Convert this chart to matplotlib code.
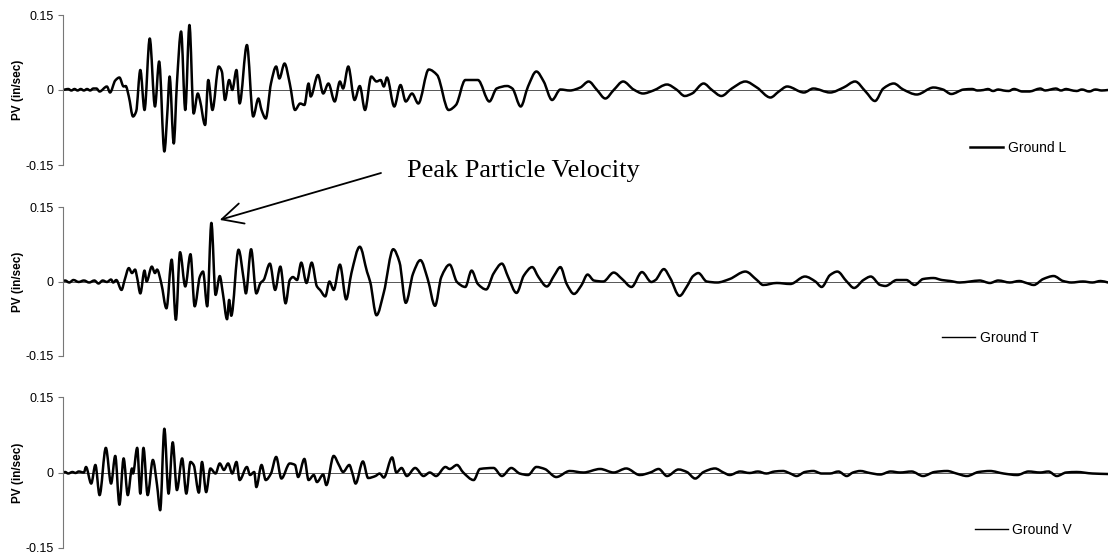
import matplotlib
matplotlib.use("Agg")
import matplotlib.pyplot as plt
import numpy as np
from matplotlib.path import Path
from matplotlib.patches import PathPatch
from matplotlib.lines import Line2D

# Ground vibration records: time (s) and particle velocity (in/sec)
t_long = [0.00, 0.02, 0.05, 0.08, 0.11, 0.14, 0.17, 0.20, 0.23, 0.26,
          0.29, 0.32, 0.35, 0.42, 0.45, 0.50, 0.54, 0.58, 0.60, 0.63,
          0.67, 0.70, 0.74, 0.78, 0.83, 0.88, 0.92, 0.97, 1.00, 1.02,
          1.06, 1.09, 1.13, 1.17, 1.21, 1.25, 1.29, 1.31, 1.36, 1.39,
          1.43, 1.49, 1.52, 1.55, 1.59, 1.62, 1.66, 1.69, 1.76, 1.82,
          1.87, 1.90, 1.94, 1.99, 2.04, 2.07, 2.12, 2.17, 2.22, 2.27,
          2.31, 2.35, 2.37, 2.44, 2.49, 2.54, 2.60, 2.65, 2.68, 2.73,
          2.79, 2.84, 2.89, 2.95, 3.00, 3.04, 3.07, 3.10, 3.17, 3.23,
          3.28, 3.34, 3.40, 3.50, 3.58, 3.69, 3.76, 3.85, 3.97, 4.08,
          4.15, 4.25, 4.30, 4.38, 4.45, 4.53, 4.60, 4.68, 4.76, 4.85,
          4.95, 5.03, 5.11, 5.19, 5.27, 5.36, 5.46, 5.55, 5.65, 5.78,
          5.87, 5.95, 6.02, 6.13, 6.21, 6.30, 6.40, 6.53, 6.64, 6.77,
          6.85, 6.93, 7.09, 7.18, 7.34, 7.47, 7.58, 7.68, 7.77, 7.85,
          7.95, 8.04, 8.17, 8.33, 8.42, 8.50, 8.62, 8.70, 8.75, 8.81,
          8.85, 8.90, 8.95, 9.00, 9.05, 9.10, 9.18, 9.25, 9.30, 9.35,
          9.40, 9.45, 9.50, 9.55, 9.60, 9.64, 9.70, 9.75, 9.82, 9.88,
          9.94, 10.00]
v_long = [0.000, 0.001, 0.002, -0.001, 0.002, -0.001, 0.002, -0.001, 0.002, -0.001,
          0.003, 0.003, -0.003, 0.007, -0.005, 0.019, 0.025, 0.007, 0.008, -0.013,
          -0.053, -0.043, 0.040, -0.040, 0.103, -0.033, 0.057, -0.123, -0.040, 0.027,
          -0.107, 0.013, 0.117, -0.040, 0.130, -0.047, -0.007, -0.020, -0.070, 0.020,
          -0.040, 0.047, 0.037, -0.020, 0.020, 0.000, 0.040, -0.027, 0.090, -0.053,
          -0.017, -0.040, -0.057, 0.013, 0.047, 0.023, 0.053, 0.013, -0.040, -0.027,
          -0.030, 0.013, -0.013, 0.030, -0.007, 0.013, -0.023, 0.017, 0.003, 0.047,
          -0.020, 0.008, -0.040, 0.027, 0.017, 0.020, 0.007, 0.025, -0.033, 0.010,
          -0.023, -0.007, -0.027, 0.041, 0.030, -0.040, -0.030, 0.020, 0.020, -0.023,
          0.003, 0.008, 0.003, -0.033, 0.007, 0.037, 0.017, -0.020, 0.001, -0.001,
          0.005, 0.017, 0.000, -0.017, 0.000, 0.017, 0.001, -0.007, -0.001, 0.011,
          0.001, -0.012, -0.007, 0.013, 0.000, -0.012, 0.003, 0.017, 0.005, -0.015,
          -0.003, 0.007, -0.005, 0.003, -0.005, 0.005, 0.017, -0.003, -0.022, 0.003,
          0.013, 0.001, -0.009, 0.005, 0.001, -0.008, 0.001, 0.002, -0.001, 0.000,
          0.002, -0.002, 0.001, -0.001, -0.002, 0.002, -0.003, -0.003, 0.000, 0.003,
          -0.001, 0.001, 0.003, -0.001, 0.002, 0.000, -0.002, 0.001, -0.003, 0.001,
          -0.001, 0.000]

t_trans = [0.00, 0.02, 0.06, 0.10, 0.15, 0.20, 0.25, 0.30, 0.34, 0.38,
           0.42, 0.46, 0.48, 0.51, 0.56, 0.59, 0.63, 0.66, 0.69, 0.71,
           0.74, 0.78, 0.80, 0.85, 0.88, 0.90, 0.94, 0.99, 1.04, 1.08,
           1.12, 1.17, 1.22, 1.26, 1.31, 1.34, 1.38, 1.42, 1.46, 1.50,
           1.53, 1.57, 1.59, 1.61, 1.68, 1.73, 1.75, 1.80, 1.85, 1.89,
           1.92, 1.98, 2.03, 2.08, 2.13, 2.17, 2.20, 2.24, 2.28, 2.33,
           2.38, 2.43, 2.46, 2.51, 2.55, 2.59, 2.65, 2.71, 2.76, 2.84,
           2.91, 2.94, 3.00, 3.07, 3.16, 3.22, 3.28, 3.35, 3.42, 3.49,
           3.56, 3.62, 3.70, 3.77, 3.85, 3.91, 3.97, 4.05, 4.12, 4.20,
           4.26, 4.34, 4.41, 4.49, 4.55, 4.63, 4.70, 4.76, 4.82, 4.89,
           4.96, 5.02, 5.08, 5.17, 5.27, 5.35, 5.44, 5.54, 5.63, 5.67,
           5.75, 5.81, 5.90, 5.97, 6.03, 6.08, 6.16, 6.26, 6.38, 6.53,
           6.64, 6.70, 6.83, 6.96, 7.10, 7.20, 7.26, 7.34, 7.41, 7.50,
           7.57, 7.66, 7.73, 7.82, 7.87, 7.98, 8.07, 8.15, 8.23, 8.33,
           8.41, 8.49, 8.58, 8.68, 8.77, 8.87, 8.95, 9.06, 9.15, 9.22,
           9.29, 9.38, 9.48, 9.57, 9.65, 9.76, 9.85, 9.93, 10.00]
v_trans = [0.001, 0.002, -0.002, 0.003, -0.001, 0.002, -0.002, 0.002, -0.004, 0.002,
           -0.001, 0.004, -0.002, 0.003, -0.017, 0.003, 0.027, 0.017, 0.024, 0.007,
           -0.024, 0.022, 0.000, 0.030, 0.017, 0.024, -0.003, -0.054, 0.044, -0.077,
           0.059, -0.010, 0.055, -0.050, 0.010, 0.020, -0.050, 0.118, -0.027, 0.011,
           -0.024, -0.076, -0.037, -0.069, 0.064, 0.003, -0.024, 0.065, -0.024, -0.003,
           0.003, 0.036, -0.017, 0.030, -0.044, 0.003, 0.009, 0.003, 0.038, -0.003,
           0.038, -0.010, -0.017, -0.030, 0.000, -0.017, 0.034, -0.036, 0.017, 0.070,
           0.019, -0.001, -0.068, -0.022, 0.065, 0.039, -0.043, 0.016, 0.043, 0.005,
           -0.049, 0.009, 0.034, -0.001, -0.011, 0.022, -0.005, -0.016, 0.016, 0.036,
           0.009, -0.023, 0.012, 0.029, 0.009, -0.010, 0.012, 0.029, -0.005, -0.025,
           -0.008, 0.014, 0.002, 0.000, 0.018, 0.005, -0.011, 0.019, -0.001, 0.003,
           0.025, 0.007, -0.029, -0.010, 0.011, 0.017, 0.000, -0.002, 0.005, 0.020,
           0.003, -0.007, -0.003, -0.005, 0.010, 0.000, -0.011, 0.013, 0.020, 0.000,
           -0.013, 0.003, 0.010, -0.007, -0.009, 0.003, 0.003, -0.007, 0.005, 0.007,
           0.003, 0.001, -0.002, 0.000, 0.002, -0.003, 0.002, -0.002, 0.001, -0.003,
           -0.007, 0.005, 0.011, 0.001, -0.002, 0.000, -0.002, 0.001, -0.002]

t_vert = [0.00, 0.02, 0.05, 0.09, 0.12, 0.15, 0.20, 0.22, 0.27, 0.31,
          0.35, 0.41, 0.46, 0.50, 0.54, 0.58, 0.62, 0.66, 0.67, 0.71,
          0.74, 0.77, 0.81, 0.86, 0.90, 0.93, 0.97, 1.01, 1.05, 1.09,
          1.14, 1.18, 1.22, 1.25, 1.30, 1.33, 1.37, 1.41, 1.46, 1.50,
          1.54, 1.58, 1.62, 1.66, 1.69, 1.76, 1.79, 1.83, 1.85, 1.90,
          1.94, 1.99, 2.04, 2.09, 2.17, 2.22, 2.25, 2.31, 2.35, 2.40,
          2.43, 2.49, 2.52, 2.59, 2.64, 2.68, 2.74, 2.77, 2.80, 2.87,
          2.92, 2.99, 3.03, 3.07, 3.15, 3.19, 3.24, 3.29, 3.37, 3.45,
          3.51, 3.57, 3.66, 3.70, 3.77, 3.83, 3.93, 3.99, 4.12, 4.20,
          4.29, 4.37, 4.45, 4.53, 4.61, 4.72, 4.85, 4.98, 5.14, 5.27,
          5.39, 5.52, 5.62, 5.70, 5.78, 5.89, 5.97, 6.05, 6.13, 6.24,
          6.32, 6.38, 6.48, 6.57, 6.65, 6.73, 6.81, 6.89, 6.96, 7.02,
          7.10, 7.18, 7.26, 7.34, 7.42, 7.50, 7.56, 7.63, 7.72, 7.82,
          7.92, 8.01, 8.12, 8.23, 8.34, 8.46, 8.55, 8.65, 8.76, 8.87,
          9.00, 9.13, 9.24, 9.35, 9.43, 9.51, 9.60, 9.70, 9.85, 10.00]
v_vert = [0.000, 0.001, -0.002, 0.001, -0.001, 0.002, 0.000, 0.011, -0.022, 0.015,
          -0.045, 0.049, -0.022, 0.033, -0.064, 0.028, -0.045, 0.008, -0.002, 0.049,
          -0.042, 0.049, -0.045, 0.025, -0.025, -0.075, 0.087, -0.042, 0.060, -0.035,
          0.028, -0.042, 0.021, 0.015, -0.040, 0.021, -0.039, 0.008, -0.002, 0.018,
          0.005, 0.018, -0.002, 0.021, -0.015, 0.011, -0.005, 0.001, -0.029, 0.015,
          -0.015, -0.002, 0.031, -0.012, 0.018, 0.015, -0.009, 0.027, -0.015, -0.005,
          -0.019, -0.004, -0.025, 0.033, 0.015, 0.001, 0.015, -0.002, -0.022, 0.022,
          -0.011, -0.007, -0.002, -0.010, 0.030, 0.000, 0.009, -0.007, 0.009, -0.007,
          0.000, -0.007, 0.011, 0.007, 0.015, 0.000, -0.015, 0.007, 0.009, -0.007,
          0.009, -0.002, -0.005, 0.011, 0.007, -0.009, 0.003, 0.000, 0.007, 0.000,
          0.008, -0.005, 0.000, 0.007, -0.007, 0.006, 0.001, -0.012, 0.001, 0.008,
          0.000, -0.005, 0.002, -0.001, 0.002, -0.002, 0.002, 0.003, -0.002, -0.007,
          0.001, 0.003, -0.002, -0.002, 0.002, -0.007, 0.000, 0.003, -0.001, -0.004,
          0.002, 0.000, 0.002, -0.007, 0.001, 0.003, -0.002, -0.007, 0.001, 0.003,
          -0.002, -0.005, 0.002, 0.000, 0.002, -0.007, 0.000, 0.001, -0.002, -0.003]

series_names = ["Ground L", "Ground T", "Ground V"]
y_ticks = [-0.15, 0, 0.15]
y_ticklabels = ["-0.15", "0", "0.15"]

SANS = "Liberation Sans"
SERIF = "Liberation Serif"
W, H = 1108, 557


def smooth_trace(t, v):
    """Monotone cubic (Fritsch-Carlson) Bezier path through the samples,
    so every peak and trough stays at its recorded value."""
    x = np.asarray(t, float)
    y = np.asarray(v, float)
    h = np.diff(x)
    d = np.diff(y) / h
    m = np.zeros_like(y)
    m[0], m[-1] = d[0], d[-1]
    for i in range(1, len(y) - 1):
        if d[i - 1] * d[i] <= 0:
            m[i] = 0.0
        else:
            w1 = 2 * h[i] + h[i - 1]
            w2 = h[i] + 2 * h[i - 1]
            m[i] = (w1 + w2) / (w1 / d[i - 1] + w2 / d[i])
    verts = [(x[0], y[0])]
    codes = [Path.MOVETO]
    for i in range(len(h)):
        verts += [(x[i] + h[i] / 3, y[i] + m[i] * h[i] / 3),
                  (x[i + 1] - h[i] / 3, y[i + 1] - m[i + 1] * h[i] / 3),
                  (x[i + 1], y[i + 1])]
        codes += [Path.CURVE4] * 3
    return Path(verts, codes)


fig = plt.figure(figsize=(W / 100, H / 100), dpi=100)

# each panel: top and bottom edge (pixels), data, legend anchor, legend line width
panels = [
    (15, 165, t_long, v_long, (970, 148), 1.8),
    (207, 356, t_trans, v_trans, (942, 338), 1.0),
    (397, 548, t_vert, v_vert, (975, 530), 1.0),
]
left_px = 63
axes = []
for (top, bot, t, v, leg_xy, leg_lw), name in zip(panels, series_names):
    ax = fig.add_axes([left_px / W, 1 - bot / H, (W - left_px) / W, (bot - top) / H])
    ax.axhline(0, color="#555555", lw=0.7, zorder=1)
    ax.add_patch(PathPatch(smooth_trace(t, v), facecolor="none", edgecolor="black",
                           lw=1.8, joinstyle="round", capstyle="round", zorder=2))
    ax.set_xlim(0, 10)
    ax.set_ylim(-0.15, 0.15)
    for s in ("top", "right", "bottom"):
        ax.spines[s].set_visible(False)
    ax.spines["left"].set_color("#777777")
    ax.spines["left"].set_linewidth(0.8)
    ax.set_xticks([])
    ax.set_yticks(y_ticks)
    ax.set_yticklabels(y_ticklabels, family=SANS, fontsize=9)
    ax.tick_params(axis="y", direction="out", length=3.5, width=0.8, color="#777777", pad=3)
    ax.patch.set_alpha(0)

    handle = Line2D([], [], color="black", lw=leg_lw, label=name)
    ax.legend(handles=[handle], loc="center left",
              bbox_to_anchor=(leg_xy[0] / W, 1 - leg_xy[1] / H),
              bbox_transform=fig.transFigure, frameon=False,
              handlelength=2.4, handletextpad=0.3, borderpad=0, borderaxespad=0,
              prop={"family": SANS, "size": 10})

    zero_y = 1 - ((top + bot) / 2) / H
    fig.text(18 / W, zero_y, "PV (in/sec)", rotation=90, ha="center", va="center",
             family=SANS, fontweight="bold", fontsize=8.5)
    axes.append(ax)

# call-out for the peak of the transverse record
axes[1].annotate("", xy=(1.50, 0.124), xycoords="data",
                 xytext=(381 / W, 1 - 173 / H), textcoords="figure fraction",
                 arrowprops=dict(arrowstyle="->,head_length=1.5,head_width=0.75",
                                 lw=1.3, color="black", shrinkA=0, shrinkB=0),
                 annotation_clip=False)
fig.text(407 / W, 1 - 177 / H, "Peak Particle Velocity", ha="left", va="baseline",
         family=SERIF, fontsize=19)

fig.savefig("out.png", dpi=100)
